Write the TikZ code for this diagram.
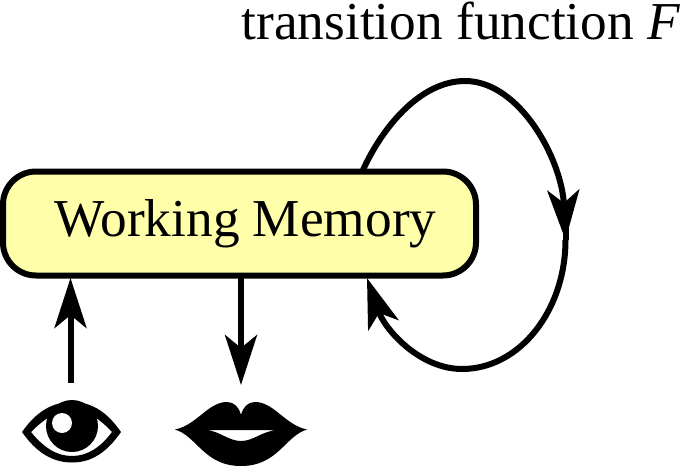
\documentclass[tikz,border=0pt]{standalone}
\usepackage{fontspec}
\setmainfont{Liberation Serif}
\usetikzlibrary{arrows.meta}
\tikzset{
  x=1pt,y=-1pt,
  memorybox/.style={draw=black,line width=6pt,fill={rgb,255:red,255;green,255;blue,170},rounded corners=33pt,minimum width=473pt,minimum height=104pt,inner sep=0pt,font=\fontsize{53.3}{60}\selectfont},
  flow/.style={line width=6pt,-{Stealth[length=50pt,width=32pt,inset=13pt]}},
  plainflow/.style={line width=6pt},
  caption/.style={inner sep=0pt,font=\fontsize{53.3}{60}\selectfont}
}
\begin{document}
\begin{tikzpicture}
\useasboundingbox (0,0) rectangle (681,466);
\node[memorybox] (wm) at (239.5,223.5) {\hspace*{12pt}Working Memory};
\node[caption,anchor=base east] (tf) at (680.5,39.5) {transition function \textit{F}};
\coordinate (eyeend) at (70.5,383);
\coordinate (lipend) at (241,385);
\coordinate (wmin) at (70.5,278);
\coordinate (wmout) at (241,278);
\coordinate (loopout) at (363,170);
\coordinate (looptop) at (465,81);
\coordinate (loopright) at (565.5,240);
\coordinate (loopjoin) at (565.5,225);
\coordinate (loopin) at (367,278);
\draw[flow] (eyeend) -- (wmin);
\draw[flow] (wmout) -- (lipend);
\draw[flow] (loopout) .. controls (382,128) and (420,81) .. (looptop) .. controls (520,81) and (562,160) .. (loopright);
\draw[plainflow] (loopjoin) -- (loopright);
\draw[flow] (loopright) .. controls (565.5,310) and (520,369) .. (462,369) .. controls (420,369) and (385,330) .. (loopin);
% eye
\fill[even odd rule] (22,432) .. controls (36,412) and (52,402) .. (72,402) .. controls (92,402) and (107,412) .. (121,432) .. controls (107,452) and (92,462.5) .. (72,462.5) .. controls (52,462.5) and (36,452) .. (22,432) -- cycle
 (31,432) .. controls (44,448) and (57,456) .. (72,456) .. controls (87,456) and (100,448) .. (112,432) .. controls (100,419) and (87,410) .. (72,410) .. controls (57,410) and (44,419) .. (31,432) -- cycle;
\fill (72,426) circle (26);
\fill[white] (62,423) circle (10);
% lips
\fill[even odd rule] (175,429.5) .. controls (197,425) and (208,402) .. (227,402) .. controls (234,402) and (239,407) .. (241,415) .. controls (243,407) and (248,402) .. (255,402) .. controls (274,402) and (285,425) .. (307,429.5) .. controls (285,436) and (278,466) .. (241,466) .. controls (204,466) and (197,436) .. (175,429.5) -- cycle
 (207,430) .. controls (221,432) and (229,441) .. (241,441) .. controls (253,441) and (261,432) .. (276,430) -- cycle;
\end{tikzpicture}
\end{document}
